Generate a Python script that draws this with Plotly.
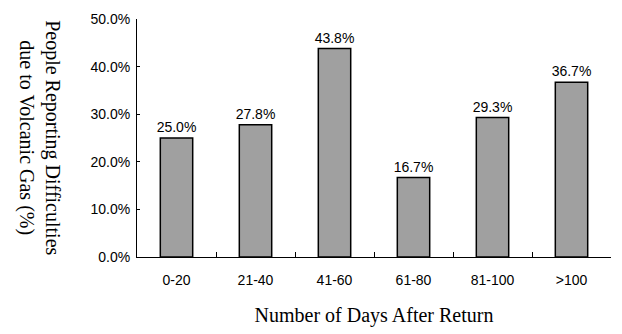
import plotly.graph_objects as go

categories = ["0-20", "21-40", "41-60", "61-80", "81-100", ">100"]
values = [25.0, 27.8, 43.8, 16.7, 29.3, 36.7]
y_ticks = [0, 10, 20, 30, 40, 50]

fig = go.Figure(go.Bar(
    x=categories, y=values,
    marker=dict(color="#a0a0a0", line=dict(color="black", width=1.5)),
    width=0.41,
    text=[f"{v:.1f}%" for v in values],
    textposition="outside",
    constraintext="none",
    textfont=dict(family="Liberation Sans, Arial", size=14, color="black"),
    cliponaxis=False,
))

fig.update_layout(
    width=622, height=334,
    margin=dict(l=137, r=11, t=19, b=74),
    plot_bgcolor="white", paper_bgcolor="white",
    showlegend=False,
    font=dict(family="Liberation Sans, Arial", size=14, color="black"),
    xaxis=dict(
        showline=True, linecolor="black", linewidth=1,
        ticks="inside", ticklen=5, tickcolor="black", tickson="boundaries",
        ticklabelstandoff=10,
        title=dict(text="Number of Days After Return",
                   font=dict(family="Liberation Serif, Times New Roman", size=20),
                   standoff=21),
    ),
    yaxis=dict(
        range=[0, 50], tickvals=y_ticks,
        ticktext=[f"{v:.1f}%" for v in y_ticks],
        showline=True, linecolor="black", linewidth=1,
        ticks="inside", ticklen=3, tickcolor="black",
        showgrid=False, zeroline=False,
        ticklabelstandoff=3,
    ),
    annotations=[dict(
        text="People Reporting Difficulties<br>due to Volcanic Gas (%)",
        textangle=90, xref="paper", yref="paper",
        x=-0.205, y=0.5, xanchor="center", yanchor="middle",
        showarrow=False,
        font=dict(family="Liberation Serif, Times New Roman", size=20, color="black"),
    )],
)

fig.write_html("out.html")
